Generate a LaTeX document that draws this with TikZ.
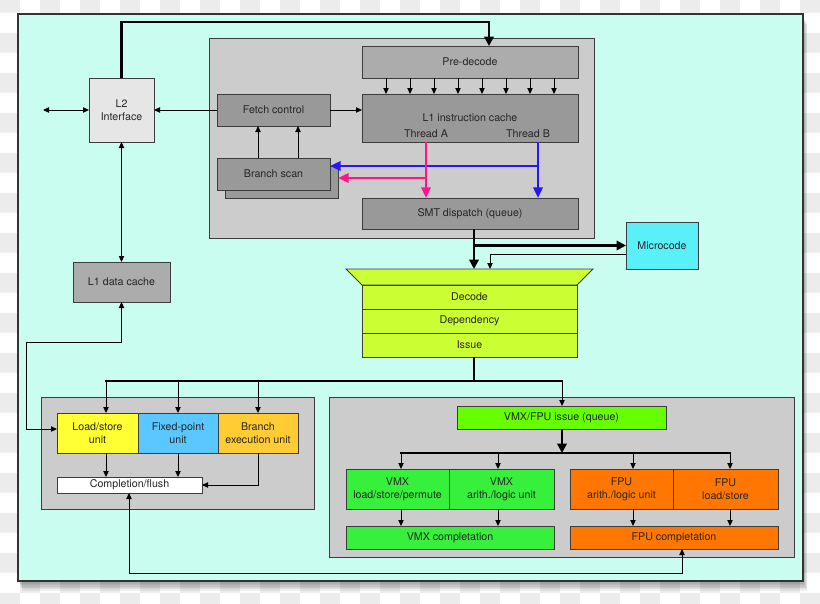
\documentclass[tikz,border=0pt]{standalone}
\usepackage{fontspec}
\setmainfont{TeX Gyre Heros}
\usetikzlibrary{arrows.meta,calc}
\definecolor{bgcyan}{RGB}{200,253,240}
\definecolor{grpgray}{RGB}{204,204,204}
\definecolor{boxgray}{RGB}{153,153,153}
\definecolor{pregray}{RGB}{172,172,172}
\definecolor{l2gray}{RGB}{230,230,230}
\definecolor{limec}{RGB}{204,255,51}
\definecolor{microc}{RGB}{90,240,250}
\definecolor{lsyellow}{RGB}{255,255,51}
\definecolor{fxblue}{RGB}{90,200,255}
\definecolor{brorange}{RGB}{255,204,51}
\definecolor{issgreen}{RGB}{102,255,0}
\definecolor{vmxgreen}{RGB}{55,240,60}
\definecolor{fpuorange}{RGB}{255,119,0}
\definecolor{pinkA}{RGB}{255,20,140}
\definecolor{blueB}{RGB}{40,20,255}
\definecolor{edgec}{RGB}{60,60,60}
\definecolor{checker}{RGB}{236,236,236}
\newcommand\bx[7]{\node[#6, minimum width={(#4-#2)*0.75pt}, minimum height={(#5-#3)*0.75pt}] (#1) at ({(#2+#4)/2},{(#3+#5)/2}) {#7};}
\tikzset{
  box/.style={draw=edgec, line width=0.6pt, inner sep=0pt, outer sep=0pt, align=center, text=black!85},
  grp/.style={box, fill=grpgray},
  arr/.style={line width=0.7pt, -{Triangle[length=4.5pt,width=4pt]}},
  darr/.style={line width=0.7pt, {Triangle[length=4.5pt,width=4pt]}-{Triangle[length=4.5pt,width=4pt]}},
  tline/.style={line width=2.2pt},
  tarr/.style={line width=2.2pt, -{Triangle[length=7pt,width=7pt]}},
  pinkln/.style={pinkA, line width=1.8pt},
  blueln/.style={blueB, line width=1.8pt},
  pinkarr/.style={pinkln, -{Triangle[length=8pt,width=7pt]}},
  bluearr/.style={blueln, -{Triangle[length=8pt,width=7pt]}},
}
\begin{document}
\begin{tikzpicture}[x=0.75pt,y=-0.75pt,font=\fontsize{8}{9.6}\selectfont]
\useasboundingbox (0,0) rectangle (820,603);
% transparency checkerboard
\fill[white] (0,0) rectangle (820,603);
\foreach \i in {0,...,40} {\foreach \j in {0,...,30} {
  \pgfmathtruncatemacro\ck{mod(\i+\j,2)}
  \ifnum\ck=0 \fill[checker] (\i*20,\j*20-7) rectangle ++(20,20); \fi
}}
% shadow
\foreach \k in {1,...,7} {\fill[black,opacity=0.06] (18+\k*0.6,14+\k*1.4) rectangle (803+\k*0.6,581+\k*1.4);}
\bx{frame}{18}{14}{803}{581}{box,fill=bgcyan,draw=black!80,line width=0.8pt}{}
% fetch group
\bx{fgrp}{209}{38}{594}{238}{grp}{}
\bx{pred}{362}{46}{578}{78}{box,fill=pregray}{Pre-decode}
\bx{l1c}{362}{94}{578}{142}{box,fill=boxgray}{L1 instruction cache}
\node[text=black!85] (thA) at (426,134) {Thread A};
\node[text=black!85] (thB) at (528,134) {Thread B};
\bx{fc}{217}{94}{330}{126}{box,fill=boxgray}{Fetch control}
\bx{bss}{225}{166}{338}{198}{box,fill=boxgray}{}
\bx{bs}{217}{158}{330}{190}{box,fill=boxgray}{Branch scan}
\bx{smt}{362}{198}{578}{229}{box,fill=boxgray}{SMT dispatch (queue)}
\bx{l2}{89}{78}{154}{142}{box,fill=l2gray}{L2\\Interface}
\bx{l1d}{73}{262}{170}{302}{box,fill=pregray}{L1 data cache}
\bx{mc}{626}{222}{698}{269}{box,fill=microc}{Microcode}
% decode block
\draw[edgec,line width=0.6pt,fill=limec] (346,269) -- (593,269) -- (577,285) -- (362,285) -- cycle;
\coordinate (dtop) at (474,269);
\bx{dec}{362}{285}{577}{309}{box,fill=limec}{Decode}
\bx{dep}{362}{309}{577}{333}{box,fill=limec}{Dependency}
\bx{iss}{362}{333}{577}{357}{box,fill=limec}{Issue}
% left execution group
\bx{lgrp}{41}{397}{314}{509}{grp}{}
\bx{ls}{57}{413}{138}{453}{box,fill=lsyellow}{Load/store\\unit}
\bx{fx}{138}{413}{218}{453}{box,fill=fxblue}{Fixed-point\\unit}
\bx{br}{218}{413}{298}{453}{box,fill=brorange}{Branch\\execution unit}
\bx{comp}{57}{477}{202}{493}{box,fill=white}{Completion/flush}
% right execution group
\bx{rgrp}{329}{397}{794}{557}{grp}{}
\bx{vfi}{457}{406}{666}{429}{box,fill=issgreen}{VMX/FPU issue (queue)}
\bx{vls}{346}{469}{449}{509}{box,fill=vmxgreen}{VMX\\load/store/permute}
\bx{val}{449}{469}{554}{509}{box,fill=vmxgreen}{VMX\\arith./logic unit}
\bx{fal}{570}{469}{673}{509}{box,fill=fpuorange}{FPU\\arith./logic unit}
\bx{fls}{673}{469}{778}{509}{box,fill=fpuorange}{FPU\\load/store}
\bx{vc}{346}{526}{554}{549}{box,fill=vmxgreen}{VMX completation}
\bx{fpc}{570}{526}{778}{549}{box,fill=fpuorange}{FPU completation}
% connectors: top
\coordinate (toprt) at (489,22);
\draw[tarr] (l2.north) |- (toprt) -- (toprt |- pred.north);
\foreach \x in {386,410,...,554} {\draw[arr] (\x,0 |- pred.south) -- (\x,0 |- l1c.north);}
\draw[arr] (fc.east) -- (fc.east -| l1c.west);
\draw[arr] (fc.west) -- (fc.west -| l2.east);
\coordinate (ext) at (43,110);
\draw[darr] (ext) -- (l2.west);
\foreach \x in {258,298} {\draw[arr] (\x,0 |- bs.north) -- (\x,0 |- fc.south);}
\draw[darr] (l2.south) -- (l1d.north);
\coordinate (lc) at (26,342);
\draw[darr] (l1d.south) |- (lc) |- ($(ls.west)+(0,-4)$);
% thread arrows
\draw[blueln] (538,166) -- (426,166);
\draw[bluearr] (426,166) -- (bs.east |- 426,166);
\draw[bluearr] (538,0 |- l1c.south) -- (538,0 |- smt.north);
\draw[pinkarr] (426,0 |- l1c.south) -- (426,0 |- smt.north);
\draw[pinkarr] (426,178) -- (bss.east |- 426,178);
% dispatch to decode / microcode
\draw[tarr] (474,0 |- smt.south) -- (dtop);
\draw[tarr] (474,0 |- mc.west) -- (mc.west);
\draw[arr] ($(mc.west)+(0,9)$) -| (490,0 |- dtop);
% issue bus
\draw[tline] (474,0 |- iss.south) -- (474,381);
\draw[tline] (105,381) -- (563,381);
\foreach \x in {106,178,258} {\draw[arr] (\x,381) -- (\x,0 |- ls.north);}
\draw[arr] (562,381) -- (562,0 |- vfi.north);
\foreach \x in {106,178} {\draw[arr] (\x,0 |- ls.south) -- (\x,0 |- comp.north);}
\draw[arr] (258,0 |- br.south) |- (comp.east);
\draw[darr] (129,0 |- comp.south) -- (129,573) -| (682,0 |- fpc.south);
% right group
\draw[tarr] (562,0 |- vfi.south) -- (562,453);
\draw[tline] (400,453) -- (731,453);
\foreach \x in {401,498,633,730} {\draw[arr] (\x,453) -- (\x,0 |- vls.north);
  \draw[arr] (\x,0 |- vls.south) -- (\x,0 |- vc.north);}
\end{tikzpicture}
\end{document}
